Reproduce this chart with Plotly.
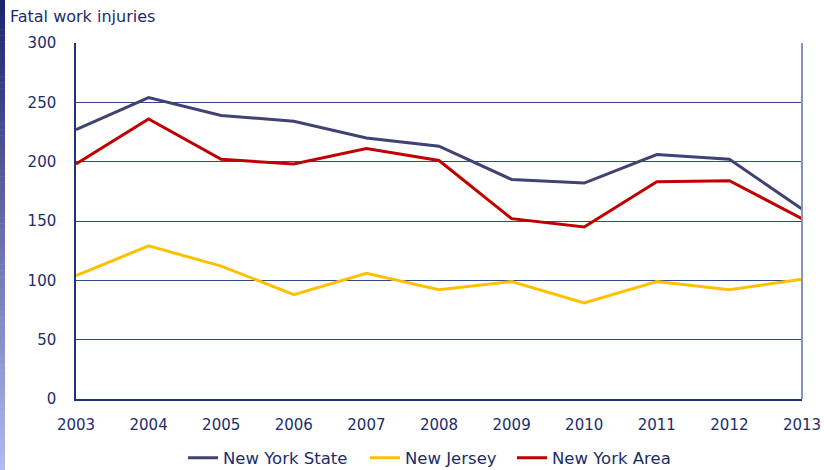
import plotly.graph_objects as go

years = [2003, 2004, 2005, 2006, 2007, 2008, 2009, 2010, 2011, 2012, 2013]
new_york_state = [227, 254, 239, 234, 220, 213, 185, 182, 206, 202, 160]
new_jersey = [104, 129, 112, 88, 106, 92, 99, 81, 99, 92, 101]
new_york_area = [198, 236, 202, 198, 211, 201, 152, 145, 183, 184, 152]
y_ticks = [0, 50, 100, 150, 200, 250, 300]

TEXT = "#1b2d6b"
FONT = "DejaVu Sans"
L, R, T, B = 76, 22, 43, 71
W, H = 824, 470
PW, PH = W - L - R, H - T - B

def px_x(p):
    return (p - L) / PW

def px_y(p):
    return (H - B - p) / PH

series = [("New York State", new_york_state, "#3f4272", "legend", 183),
          ("New Jersey", new_jersey, "#ffc000", "legend2", 365),
          ("New York Area", new_york_area, "#c00000", "legend3", 512)]

fig = go.Figure()
legends = {}
for name, vals, col, lg, lx in series:
    fig.add_trace(go.Scatter(x=years, y=vals, name=name, mode="lines", legend=lg,
                             line=dict(color=col, width=3)))
    legends[lg] = dict(orientation="h", x=px_x(lx), xanchor="left", y=px_y(458),
                       yanchor="middle", font=dict(family=FONT, size=16.5, color=TEXT),
                       itemwidth=30, bgcolor="rgba(0,0,0,0)")

# left gradient strip
shapes = []
n = 80
c0 = (0x1e, 0x24, 0x6e)
c1 = (0xb4, 0xb8, 0xec)
for i in range(n):
    t = i / (n - 1)
    c = tuple(int(c0[k] + (c1[k] - c0[k]) * t) for k in range(3))
    shapes.append(dict(type="rect", xref="paper", yref="paper",
                       x0=px_x(0), x1=px_x(5),
                       y0=px_y(H * (i + 1) / n + 0.5), y1=px_y(H * i / n),
                       fillcolor="rgb(%d,%d,%d)" % c, line=dict(width=0), layer="above"))
# right border
shapes.append(dict(type="line", xref="paper", yref="paper", x0=1, x1=1, y0=0, y1=1,
                   line=dict(color="#8594bd", width=2)))

fig.update_layout(
    width=W, height=H,
    margin=dict(l=L, r=R, t=T, b=B, autoexpand=False),
    paper_bgcolor="white", plot_bgcolor="white",
    font=dict(family=FONT, color=TEXT, size=15),
    showlegend=True,
    xaxis=dict(range=[2003, 2013], tickmode="array", tickvals=years,
               ticktext=[str(y) for y in years], showgrid=False, zeroline=False,
               showline=True, linecolor="#1f3577", linewidth=2,
               ticks="", ticklabelstandoff=11, tickfont=dict(size=15, color=TEXT)),
    yaxis=dict(range=[0, 300], tickmode="array", tickvals=y_ticks, showgrid=True,
               gridcolor="#2f4a8a", gridwidth=1, zeroline=False,
               showline=True, linecolor="#1f3577", linewidth=1.5,
               ticks="", ticklabelstandoff=15, tickfont=dict(size=15, color=TEXT)),
    shapes=shapes,
    annotations=[dict(text="Fatal work injuries", xref="paper", yref="paper",
                      x=px_x(8), y=px_y(17), xanchor="left", yanchor="middle",
                      showarrow=False, font=dict(family=FONT, size=16, color=TEXT))],
    **legends,
)
fig.write_html("out.html", config={"displayModeBar": False},
               post_script="document.body.style.margin='0px';document.body.style.overflow='hidden';")
